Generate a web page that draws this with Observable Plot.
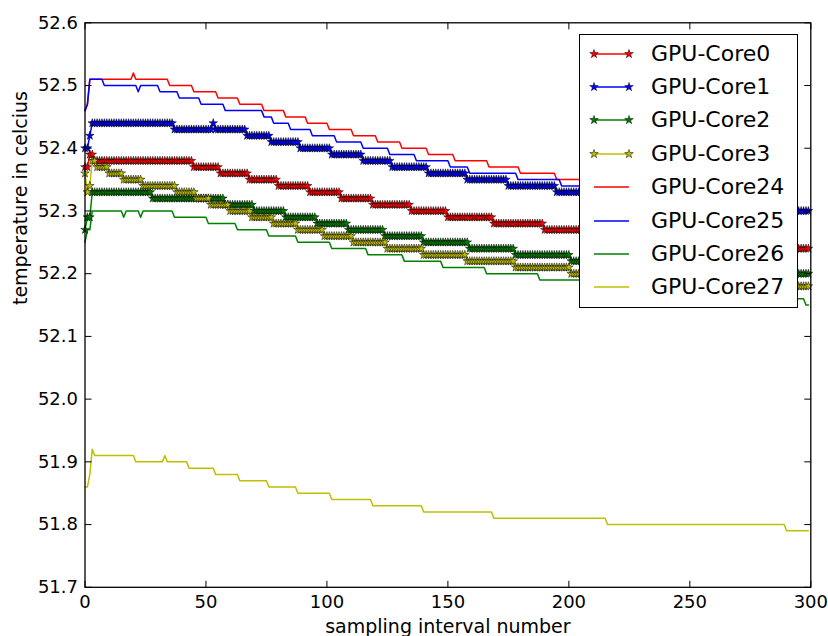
<!DOCTYPE html>
<html><head><meta charset="utf-8">
<script src="https://cdn.jsdelivr.net/npm/d3@7"></script>
<script src="https://cdn.jsdelivr.net/npm/@observablehq/plot@0.6"></script>
<style>
body{margin:0;background:#fff;}
#wrap{position:relative;width:828px;height:636px;overflow:hidden;font-family:"DejaVu Sans",sans-serif;}
#legend{position:absolute;left:579px;top:34px;width:219px;height:274px;box-sizing:border-box;border:1.3px solid #000;background:#fff;}
.row{position:absolute;left:0;width:100%;height:34px;}
.row svg{position:absolute;left:0;top:0;}
.row span{position:absolute;left:71px;top:0;line-height:34px;font-size:22px;color:#000;white-space:nowrap;}
</style></head><body><div id="wrap"></div>
<script>
// ---------- data ----------
const sampleCount = 300;
const xTicks = [0, 50, 100, 150, 200, 250, 300];
const yTicks = [51.7, 51.8, 51.9, 52.0, 52.1, 52.2, 52.3, 52.4, 52.5, 52.6];
const seriesNames = ["GPU-Core0","GPU-Core1","GPU-Core2","GPU-Core3","GPU-Core24","GPU-Core25","GPU-Core26","GPU-Core27"];
const seriesColors = ["#ff0000","#0000ff","#008000","#bfbf00","#ff0000","#0000ff","#008000","#bfbf00"];
const seriesMarked = [true,true,true,true,false,false,false,false];

// each run: [first sample of the run, temperature held until the next run]
const core0Runs = [[0,52.37],[2,52.39],[4,52.38],[45,52.37],[56,52.36],[68,52.35],[80,52.34],[93,52.33],[106,52.32],[119,52.31],[135,52.30],[150,52.29],[169,52.28],[190,52.27],[215,52.26],[240,52.25],[268,52.24]];
const core1Runs = [[0,52.40],[2,52.42],[3,52.44],[37,52.43],[53,52.44],[54,52.43],[67,52.42],[77,52.41],[89,52.40],[102,52.39],[115,52.38],[127,52.37],[142,52.36],[158,52.35],[175,52.34],[195,52.33],[220,52.32],[250,52.31],[280,52.30]];
const core2Runs = [[0,52.27],[1,52.29],[3,52.33],[28,52.32],[58,52.31],[70,52.30],[83,52.29],[96,52.28],[109,52.27],[124,52.26],[140,52.25],[159,52.24],[178,52.23],[201,52.22],[245,52.21],[280,52.20]];
const core3Runs = [[0,52.36],[1,52.33],[2,52.34],[3,52.38],[5,52.37],[10,52.36],[16,52.35],[24,52.34],[38,52.33],[46,52.32],[52,52.31],[60,52.30],[69,52.29],[78,52.28],[88,52.27],[99,52.26],[111,52.25],[125,52.24],[140,52.23],[158,52.22],[178,52.21],[201,52.20],[240,52.19],[272,52.18]];
const core24Runs = [[0,52.46],[1,52.47],[2,52.51],[20,52.52],[21,52.51],[35,52.50],[45,52.49],[55,52.48],[64,52.47],[74,52.46],[83,52.45],[92,52.44],[101,52.43],[111,52.42],[121,52.41],[131,52.40],[142,52.39],[153,52.38],[167,52.37],[180,52.36],[195,52.35],[212,52.34],[228,52.33],[245,52.32],[262,52.31],[280,52.30]];
const core25Runs = [[0,52.46],[1,52.47],[2,52.51],[8,52.50],[22,52.49],[23,52.50],[31,52.49],[39,52.48],[48,52.47],[58,52.46],[74,52.45],[78,52.44],[85,52.43],[94,52.42],[104,52.41],[115,52.40],[126,52.39],[137,52.38],[151,52.37],[159,52.36],[179,52.35],[197,52.34],[215,52.33],[235,52.32],[255,52.31],[275,52.30]];
const core26Runs = [[0,52.25],[1,52.27],[3,52.30],[16,52.29],[17,52.30],[23,52.29],[24,52.30],[37,52.29],[51,52.28],[63,52.27],[76,52.26],[88,52.25],[102,52.24],[117,52.23],[132,52.22],[148,52.21],[166,52.20],[188,52.19],[215,52.18],[250,52.17],[275,52.16],[298,52.15]];
const core27Runs = [[0,51.86],[2,51.88],[3,51.92],[4,51.91],[21,51.90],[33,51.91],[34,51.90],[43,51.89],[54,51.88],[64,51.87],[76,51.86],[88,51.85],[102,51.84],[119,51.83],[140,51.82],[169,51.81],[216,51.80],[290,51.79]];
const seriesRuns = [core0Runs,core1Runs,core2Runs,core3Runs,core24Runs,core25Runs,core26Runs,core27Runs];

// hold each run's value over its samples
function expand(runs){
  const out = []; let j = 0;
  for (let s = 0; s < sampleCount; s++){
    while (j + 1 < runs.length && runs[j+1][0] <= s) j++;
    out.push({sample: s, temp: runs[j][1]});
  }
  return out;
}
const seriesData = seriesRuns.map(expand);

// ---------- chart ----------
const tickLen = 6.5;
const starR = 2.7;
const tickSym = (dx, dy) => ({draw(c){ c.moveTo(0,0); c.lineTo(dx*tickLen, dy*tickLen); }});
const font = "DejaVu Sans";

const marks = [];
// plain lines (Core24-27)
for (const k of [4,5,6,7]) {
  marks.push(Plot.line(seriesData[k], {x:"sample", y:"temp", stroke: seriesColors[k], strokeWidth: 1.5}));
}
// lines with star markers (Core0-3)
for (const k of [0,1,2,3]) {
  marks.push(Plot.line(seriesData[k], {x:"sample", y:"temp", stroke: seriesColors[k], strokeWidth: 1.5}));
  marks.push(Plot.dot(seriesData[k], {x:"sample", y:"temp", symbol:"star", r: starR, fill: seriesColors[k], stroke:"#000", strokeWidth: 0.5}));
}
// inward ticks on all four sides
marks.push(Plot.dot(yTicks, {y: d=>d, frameAnchor:"left", symbol: tickSym(1,0), fill:"none", stroke:"#000", strokeWidth:1}));
marks.push(Plot.dot(yTicks, {y: d=>d, frameAnchor:"right", symbol: tickSym(-1,0), fill:"none", stroke:"#000", strokeWidth:1}));
marks.push(Plot.dot(xTicks, {x: d=>d, frameAnchor:"bottom", symbol: tickSym(0,-1), fill:"none", stroke:"#000", strokeWidth:1}));
marks.push(Plot.dot(xTicks, {x: d=>d, frameAnchor:"top", symbol: tickSym(0,1), fill:"none", stroke:"#000", strokeWidth:1}));
marks.push(Plot.frame({stroke:"#000", strokeWidth:1.3}));
marks.push(Plot.axisX(xTicks, {tickSize:0, tickPadding:8, fontSize:18, label:null, tickFormat: d=>String(d), fill:"#000"}));
marks.push(Plot.axisY(yTicks, {tickSize:0, tickPadding:7, fontSize:18, label:null, tickFormat: d=>d.toFixed(1), fill:"#000"}));
marks.push(Plot.text(["sampling interval number"], {text: d=>d, frameAnchor:"bottom", dy:46, fontSize:19, fill:"#000"}));
marks.push(Plot.text(["temperature in celcius"], {text: d=>d, frameAnchor:"left", dx:-64.5, rotate:-90, fontSize:19, fill:"#000"}));

const chart = Plot.plot({
  width: 828, height: 636,
  marginLeft: 84.5, marginRight: 17.7, marginTop: 22.3, marginBottom: 49.2,
  x: {domain: [0, 300]},
  y: {domain: [51.7, 52.6]},
  style: {fontFamily: font, background: "#fff", color: "#000"},
  marks
});
const wrap = document.getElementById("wrap");
wrap.appendChild(chart);

// ---------- legend ----------
const legend = document.createElement("div");
legend.id = "legend";
const starPath = d3.symbol(d3.symbolStar, Math.PI * starR * starR)();
seriesNames.forEach((name, i) => {
  const row = document.createElement("div");
  row.className = "row";
  row.style.top = (1.5 + 33.4 * i) + "px";
  const svg = d3.create("svg").attr("width", 60).attr("height", 34);
  svg.append("line").attr("x1", 14).attr("x2", 49).attr("y1", 17).attr("y2", 17)
     .attr("stroke", seriesColors[i]).attr("stroke-width", 1.5);
  if (seriesMarked[i]) {
    for (const px of [14, 49]) {
      svg.append("path").attr("d", starPath).attr("transform", `translate(${px},17)`)
         .attr("fill", seriesColors[i]).attr("stroke", "#000").attr("stroke-width", 0.5);
    }
  }
  row.appendChild(svg.node());
  const label = document.createElement("span");
  label.textContent = name;
  row.appendChild(label);
  legend.appendChild(row);
});
wrap.appendChild(legend);
</script>
</body></html>
